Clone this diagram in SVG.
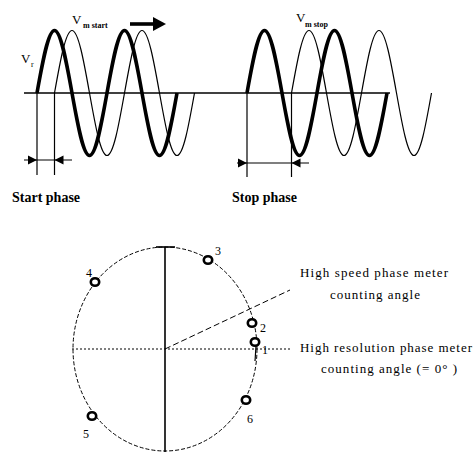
<svg xmlns="http://www.w3.org/2000/svg" width="474" height="452" viewBox="0 0 474 452">
<defs>
<style>
.thick{fill:none;stroke:#000;stroke-width:3.6;stroke-linejoin:round}
.thin{fill:none;stroke:#000;stroke-width:1.2}
.ln{stroke:#000;stroke-width:1.2;fill:none}
.ax{stroke:#000;stroke-width:1.6;fill:none}
.head{fill:#000;stroke:none}
.lbl{font-family:"Liberation Serif",serif;fill:#000}
.bold{font-family:"Liberation Serif",serif;font-weight:bold;font-size:14px;fill:#000}
.note{font-family:"Liberation Serif",serif;font-size:13px;fill:#000}
.mk{fill:#fff;stroke:#000;stroke-width:2.6}
.num{font-family:"Liberation Serif",serif;font-size:12px;fill:#000}
</style>
</defs>
<rect width="474" height="452" fill="#fff"/>

<g id="waves">
<line class="ax" x1="24" y1="93" x2="390" y2="93"/>
<path class="thin" d="M54.5,93 c5.71,-32.02 11.17,-62.5 17.5,-62.5 c6.33,0 11.79,30.48 17.5,62.5 c5.71,32.02 11.17,62.5 17.5,62.5 c6.33,0 11.79,-30.48 17.5,-62.5 c5.71,-32.02 11.17,-62.5 17.5,-62.5 c6.33,0 11.79,30.48 17.5,62.5 c5.71,32.02 11.17,62.5 17.5,62.5 c6.33,0 11.79,-30.48 17.5,-62.5"/>
<path class="thick" d="M37,93 c5.71,-32.02 11.17,-62.5 17.5,-62.5 c6.33,0 11.79,30.48 17.5,62.5 c5.71,32.02 11.17,62.5 17.5,62.5 c6.33,0 11.79,-30.48 17.5,-62.5 c5.71,-32.02 11.17,-62.5 17.5,-62.5 c6.33,0 11.79,30.48 17.5,62.5 c5.71,32.02 11.17,62.5 17.5,62.5 c6.33,0 11.79,-30.48 17.5,-62.5"/>
<path class="thin" d="M291.5,93 c5.71,-32.02 11.17,-62.5 17.5,-62.5 c6.33,0 11.79,30.48 17.5,62.5 c5.71,32.02 11.17,62.5 17.5,62.5 c6.33,0 11.79,-30.48 17.5,-62.5 c5.71,-32.02 11.17,-62.5 17.5,-62.5 c6.33,0 11.79,30.48 17.5,62.5 c5.71,32.02 11.17,62.5 17.5,62.5 c6.33,0 11.79,-30.48 17.5,-62.5"/>
<path class="thick" d="M247,93 c5.71,-32.02 11.17,-62.5 17.5,-62.5 c6.33,0 11.79,30.48 17.5,62.5 c5.71,32.02 11.17,62.5 17.5,62.5 c6.33,0 11.79,-30.48 17.5,-62.5 c5.71,-32.02 11.17,-62.5 17.5,-62.5 c6.33,0 11.79,30.48 17.5,62.5 c5.71,32.02 11.17,62.5 17.5,62.5 c6.33,0 11.79,-30.48 17.5,-62.5"/>
</g>

<g id="start-phase">
<line class="ln" x1="37" y1="93" x2="37" y2="175"/>
<line class="ln" x1="54.5" y1="93" x2="54.5" y2="175"/>
<line class="ln" x1="24" y1="160" x2="72" y2="160"/>
<polygon class="head" points="37,160 28,155.5 28,164.5"/>
<polygon class="head" points="54.5,160 63.5,155.5 63.5,164.5"/>
<text class="bold" x="12" y="202">Start phase</text>
</g>

<g id="stop-phase">
<line class="ln" x1="247" y1="93" x2="247" y2="177"/>
<line class="ln" x1="291.5" y1="93" x2="291.5" y2="177"/>
<line class="ln" x1="237" y1="163" x2="309" y2="163"/>
<polygon class="head" points="247,163 238,158.5 238,167.5"/>
<polygon class="head" points="291.5,163 300.5,158.5 300.5,167.5"/>
<text class="bold" x="232" y="202">Stop phase</text>
</g>

<g id="labels">
<text class="lbl" x="21" y="63" font-size="13">V</text>
<text class="lbl" x="31" y="67" font-size="8">r</text>
<text class="lbl" x="72" y="24" font-size="13">V</text>
<text class="lbl" x="83" y="28" font-size="8" font-weight="bold">m start</text>
<text class="lbl" x="296" y="22" font-size="13">V</text>
<text class="lbl" x="305" y="27" font-size="8" font-weight="bold">m stop</text>
</g>

<g id="shift-arrow">
<line x1="130" y1="24" x2="156" y2="24" stroke="#000" stroke-width="3.6"/>
<polygon class="head" points="166,24 153,17 153,31"/>
</g>

<g id="phase-circle">
<ellipse cx="165" cy="349" rx="92" ry="102" fill="none" stroke="#000" stroke-width="1" stroke-dasharray="4,2"/>
<line class="ax" x1="165" y1="247" x2="165" y2="452"/>
<line class="ax" x1="156" y1="247" x2="175" y2="247"/>
<line x1="72" y1="349" x2="292" y2="349" stroke="#000" stroke-width="1" stroke-dasharray="2,2"/>
<line x1="165" y1="349" x2="290" y2="290" stroke="#000" stroke-width="1" stroke-dasharray="6,3"/>
<line class="ln" x1="256" y1="346" x2="255" y2="361"/>
</g>

<g id="point-1"><ellipse class="mk" cx="255" cy="342" rx="4.2" ry="3.8"/><text class="num" x="262" y="354" font-size="9">1</text></g>
<g id="point-2"><ellipse class="mk" cx="252" cy="323" rx="4.2" ry="3.8"/><text class="num" x="260" y="332">2</text></g>
<g id="point-3"><ellipse class="mk" cx="208" cy="260" rx="4.2" ry="3.8"/><text class="num" x="215" y="255">3</text></g>
<g id="point-4"><ellipse class="mk" cx="95" cy="282" rx="4.2" ry="3.8"/><text class="num" x="86" y="277">4</text></g>
<g id="point-5"><ellipse class="mk" cx="92" cy="416" rx="4.2" ry="3.8"/><text class="num" x="83" y="438">5</text></g>
<g id="point-6"><ellipse class="mk" cx="246" cy="400" rx="4.2" ry="3.8"/><text class="num" x="247" y="423">6</text></g>

<g id="high-speed-note">
<text class="note" x="300" y="277" textLength="148">High speed phase meter</text>
<text class="note" x="330" y="299" textLength="90">counting angle</text>
</g>
<g id="high-resolution-note">
<text class="note" x="300" y="352" textLength="172">High resolution phase meter</text>
<text class="note" x="321" y="373" textLength="136">counting angle (= 0° )</text>
</g>
</svg>
